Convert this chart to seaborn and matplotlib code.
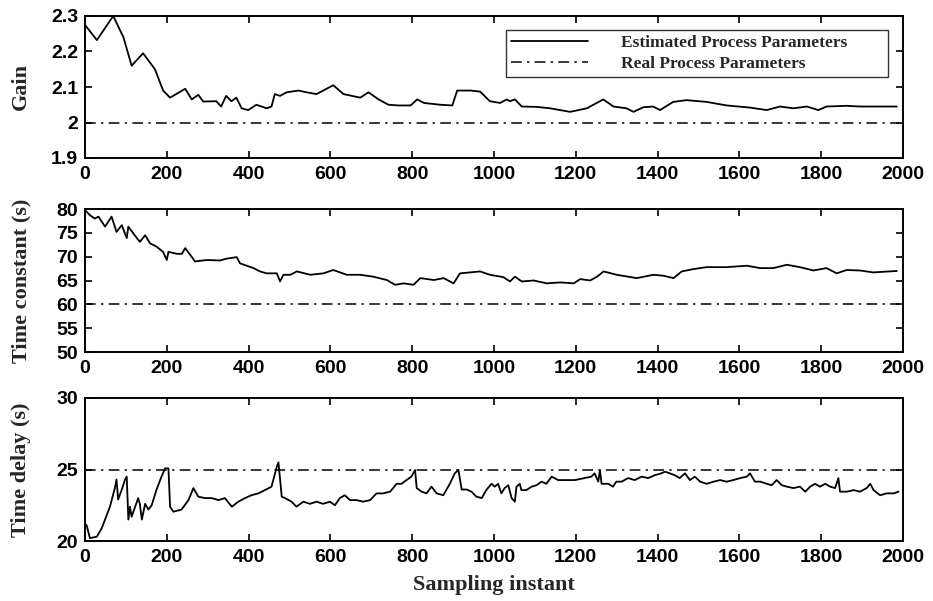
import numpy as np
import pandas as pd
import matplotlib
matplotlib.use("Agg")
import matplotlib.pyplot as plt
import seaborn as sns

# ---------------- data ----------------
gain_x = [0, 29, 69, 94, 114, 142, 171, 191, 208, 245, 261, 277, 289, 321, 333, 345, 358,
          370, 383, 399, 419, 444, 456, 464, 477, 493, 522, 542, 566, 607, 632, 673, 693,
          718, 742, 767, 796, 812, 829, 869, 898, 910, 943, 966, 990, 1015, 1031, 1039,
          1051, 1068, 1104, 1137, 1186, 1227, 1267, 1292, 1324, 1341, 1365, 1389, 1406,
          1438, 1471, 1520, 1569, 1626, 1667, 1699, 1732, 1765, 1793, 1813, 1862, 1895, 1985]
gain_est = [2.275, 2.232, 2.300, 2.240, 2.160, 2.195, 2.150, 2.090, 2.070, 2.095, 2.065,
            2.078, 2.059, 2.060, 2.045, 2.075, 2.060, 2.070, 2.040, 2.035, 2.050, 2.040,
            2.045, 2.080, 2.075, 2.085, 2.090, 2.085, 2.080, 2.105, 2.080, 2.070, 2.085,
            2.065, 2.050, 2.048, 2.048, 2.065, 2.055, 2.050, 2.048, 2.090, 2.090, 2.087,
            2.060, 2.055, 2.065, 2.060, 2.065, 2.045, 2.044, 2.040, 2.030, 2.040, 2.065,
            2.045, 2.040, 2.030, 2.043, 2.045, 2.035, 2.058, 2.063, 2.058, 2.048, 2.042,
            2.035, 2.045, 2.040, 2.045, 2.035, 2.045, 2.047, 2.045, 2.045]

tc_x = [0, 12, 24, 33, 49, 65, 77, 90, 102, 106, 118, 134, 147, 159, 175, 191, 200, 204,
        225, 237, 245, 257, 269, 298, 330, 347, 371, 379, 412, 428, 444, 469, 477, 485,
        502, 518, 551, 583, 607, 640, 673, 705, 738, 758, 779, 803, 820, 853, 877, 901,
        917, 966, 990, 1023, 1039, 1051, 1068, 1097, 1129, 1162, 1195, 1211, 1235, 1252,
        1268, 1300, 1349, 1390, 1414, 1439, 1459, 1488, 1520, 1569, 1618, 1651, 1683,
        1716, 1748, 1781, 1813, 1838, 1862, 1895, 1927, 1985]
tc_est = [79.8, 78.7, 78.0, 78.4, 76.3, 78.4, 75.2, 76.6, 73.9, 76.3, 74.9, 73.1, 74.5,
          72.8, 72.1, 71.0, 69.3, 71.0, 70.6, 70.6, 71.8, 70.4, 69.0, 69.3, 69.2, 69.6,
          69.9, 68.6, 67.6, 66.9, 66.5, 66.5, 64.8, 66.2, 66.2, 66.9, 66.2, 66.5, 67.2,
          66.2, 66.2, 65.8, 65.1, 64.1, 64.4, 64.1, 65.5, 65.1, 65.5, 64.4, 66.5, 66.9,
          66.2, 65.7, 64.8, 65.8, 64.8, 65.0, 64.4, 64.6, 64.4, 65.3, 65.0, 65.8, 66.9,
          66.2, 65.5, 66.2, 66.0, 65.5, 66.9, 67.4, 67.8, 67.8, 68.1, 67.6, 67.6, 68.3,
          67.8, 67.1, 67.6, 66.5, 67.2, 67.1, 66.7, 67.0]

td_x = [0, 4, 12, 29, 41, 61, 73, 77, 81, 90, 98, 102, 106, 110, 114, 130, 134, 139, 147,
        155, 163, 175, 187, 196, 204, 208, 216, 236, 253, 265, 277, 293, 310, 326, 342,
        359, 375, 391, 407, 424, 440, 456, 469, 473, 481, 489, 505, 517, 534, 550, 566,
        582, 599, 611, 623, 635, 648, 664, 680, 697, 713, 729, 746, 762, 774, 786, 798,
        807, 811, 823, 835, 847, 860, 876, 892, 904, 913, 921, 933, 945, 957, 970, 982,
        994, 1002, 1010, 1018, 1026, 1035, 1043, 1051, 1055, 1063, 1067, 1079, 1092, 1104,
        1116, 1128, 1141, 1157, 1173, 1198, 1222, 1238, 1246, 1255, 1259, 1263, 1279,
        1291, 1299, 1312, 1328, 1344, 1361, 1377, 1393, 1409, 1418, 1430, 1442, 1454,
        1467, 1479, 1491, 1504, 1520, 1537, 1553, 1569, 1585, 1602, 1618, 1626, 1638,
        1651, 1667, 1679, 1691, 1704, 1716, 1732, 1748, 1761, 1773, 1785, 1797, 1810,
        1822, 1834, 1842, 1846, 1863, 1879, 1895, 1911, 1920, 1928, 1944, 1960, 1977, 1989]
td_est = [21.2, 21.1, 20.2, 20.3, 20.9, 22.4, 23.7, 24.3, 22.9, 23.6, 24.3, 24.5, 21.5,
          22.4, 21.7, 23.0, 22.6, 21.5, 22.6, 22.2, 22.5, 23.6, 24.5, 25.08, 25.08, 22.4,
          22.05, 22.2, 22.86, 23.7, 23.1, 23.0, 23.0, 22.86, 23.0, 22.4, 22.75, 23.0, 23.2,
          23.33, 23.56, 23.8, 25.2, 25.5, 23.1, 23.0, 22.75, 22.4, 22.75, 22.6, 22.75,
          22.6, 22.75, 22.5, 23.0, 23.2, 22.86, 22.86, 22.75, 22.86, 23.33, 23.33, 23.45,
          24.0, 24.0, 24.26, 24.5, 24.96, 23.7, 23.45, 23.33, 23.8, 23.33, 23.2, 24.0,
          24.73, 24.96, 23.6, 23.6, 23.45, 23.1, 23.0, 23.6, 24.0, 23.8, 24.0, 23.33, 23.7,
          23.9, 23.0, 22.75, 23.8, 24.0, 23.56, 23.56, 23.8, 23.9, 24.15, 24.0, 24.5,
          24.26, 24.26, 24.26, 24.4, 24.5, 24.73, 24.15, 24.96, 24.0, 24.0, 23.8, 24.15,
          24.15, 24.4, 24.26, 24.5, 24.4, 24.6, 24.73, 24.85, 24.73, 24.6, 24.4, 24.73,
          24.26, 24.5, 24.15, 24.0, 24.15, 24.26, 24.15, 24.26, 24.4, 24.5, 24.73, 24.15,
          24.15, 24.0, 23.9, 24.26, 23.9, 23.8, 23.7, 23.8, 23.45, 23.8, 24.0, 23.8, 24.0,
          23.8, 23.7, 24.4, 23.45, 23.45, 23.56, 23.45, 23.7, 24.0, 23.56, 23.2, 23.33,
          23.33, 23.45]

real_x = [0, 1990]
real_gain = 2.0
real_tc = 60.0
real_td = 25.0

x_ticks = list(range(0, 2001, 200))
gain_ticks = [1.9, 2.0, 2.1, 2.2, 2.3]
gain_ticklabels = ["1.9", "2", "2.1", "2.2", "2.3"]
tc_ticks = [50, 55, 60, 65, 70, 75, 80]
td_ticks = [20, 25, 30]

ylabels = ["Gain", "Time constant (s)", "Time delay (s)"]
xlabel = "Sampling instant"
legend_labels = ["Estimated Process Parameters", "Real Process Parameters"]

# ---------------- figure ----------------
sns.set_style("ticks")
plt.rcParams["font.family"] = ["Liberation Sans", "DejaVu Sans"]

fig = plt.figure(figsize=(9.33, 6.01), dpi=100)
left, width = 85 / 933, 818 / 933
boxes = [(1 - 158 / 601, 142 / 601), (1 - 352 / 601, 143 / 601), (1 - 541 / 601, 143 / 601)]
axes = [fig.add_axes([left, b, width, h]) for b, h in boxes]

series = [
    (gain_x, gain_est, real_gain, (1.9, 2.3), gain_ticks, gain_ticklabels),
    (tc_x, tc_est, real_tc, (50, 80), tc_ticks, [str(t) for t in tc_ticks]),
    (td_x, td_est, real_td, (20, 30), td_ticks, [str(t) for t in td_ticks]),
]

serif = ["Liberation Serif", "DejaVu Serif"]
dashdot = (0, (7, 3.5, 1.5, 3.5))

for ax, (xs, ys, real, ylim, yt, ytl), lab in zip(axes, series, ylabels):
    df = pd.DataFrame({"x": xs, "y": ys})
    sns.lineplot(data=df, x="x", y="y", ax=ax, color="black", lw=1.3,
                 label=legend_labels[0])
    dr = pd.DataFrame({"x": real_x, "y": [real] * len(real_x)})
    sns.lineplot(data=dr, x="x", y="y", ax=ax, color="black", lw=1.1,
                 linestyle=dashdot, label=legend_labels[1])
    ax.set_xlim(0, 2000)
    ax.set_ylim(*ylim)
    ax.set_xticks(x_ticks)
    ax.set_xticklabels([str(t) for t in x_ticks], fontsize=14, fontweight="bold")
    ax.set_yticks(yt)
    ax.set_yticklabels(ytl, fontsize=14, fontweight="bold")
    ax.tick_params(direction="in", length=5, width=1.2, top=True, right=True,
                   colors="black")
    ax.tick_params(axis="x", pad=6)
    ax.tick_params(axis="y", pad=5)
    for s in ax.spines.values():
        s.set_visible(True)
        s.set_linewidth(1.4)
        s.set_color("black")
    ax.set_xlabel("")
    ax.set_ylabel(lab, fontsize=16, fontweight="bold", family=serif)
    ax.yaxis.set_label_coords(-0.066, 0.5)
    if ax is not axes[0]:
        ax.get_legend().remove()

leg = axes[0].legend(loc="upper left", bbox_to_anchor=(0.515, 0.577, 0.467, 0.324),
                     mode="expand",
                     prop={"family": serif, "weight": "bold", "size": 12.5},
                     handlelength=4.4, handletextpad=1.9, frameon=True,
                     fancybox=False, borderpad=0.3, labelspacing=0.25,
                     borderaxespad=0)
leg.get_frame().set_edgecolor("black")
leg.get_frame().set_linewidth(1.0)

axes[2].set_xlabel(xlabel, fontsize=16, fontweight="bold", family=serif, labelpad=6)

fig.savefig("out.png", dpi=100, facecolor="white")
